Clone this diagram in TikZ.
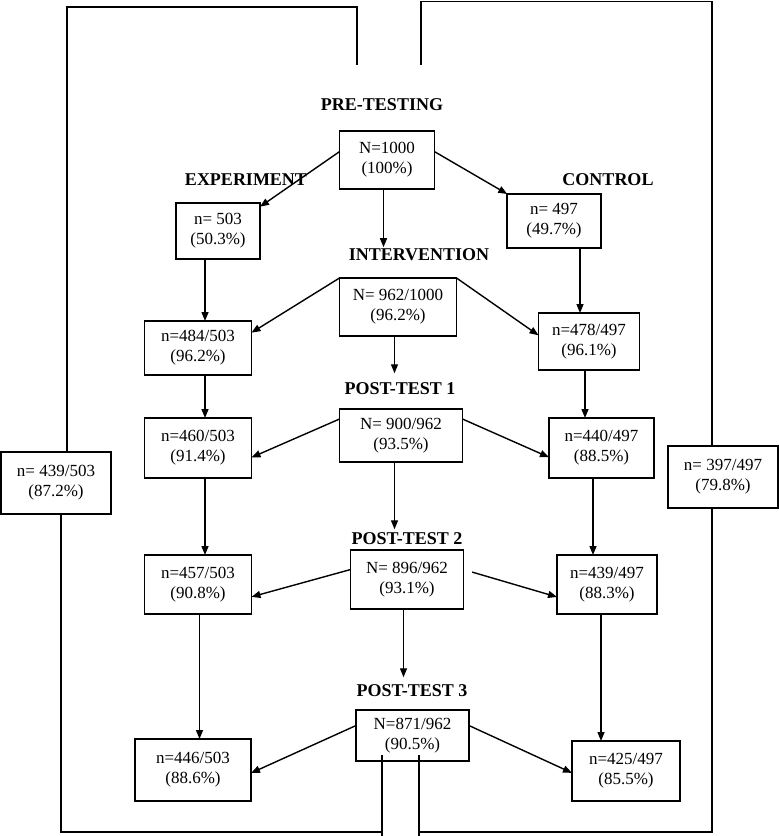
\documentclass[tikz,border=0pt]{standalone}
\usepackage{fontspec}
\setmainfont{Liberation Serif}
\usetikzlibrary{arrows.meta}

\tikzset{
  box/.style={draw, align=center, inner sep=0pt, outer sep=0pt, font=\fontsize{17}{20}\selectfont},
  phase/.style={font=\bfseries\fontsize{18}{20}\selectfont, inner sep=1pt}
}

\begin{document}
\begin{tikzpicture}[x=1pt,y=-1pt,line width=1.4pt,>={Triangle[length=9pt,width=7pt]}]
  \useasboundingbox (0,0) rectangle (779,836);
  % fases
  \node[phase] (pre) at (382,105) {PRE-TESTING};
  \node[phase] (expe) at (246,180) {EXPERIMENT};
  \node[phase] (ctrl) at (608,180) {CONTROL};
  \node[phase] (inter) at (419,255) {INTERVENTION};
  \node[phase] (post1) at (400,389) {POST-TEST 1};
  \node[phase] (post2) at (407,539) {POST-TEST 2};
  \node[phase] (post3) at (412,691) {POST-TEST 3};
  % muestra total
  \node[box,minimum width=95pt,minimum height=58pt] (n1000) at (387,160) {N=1000\\(100\%)};
  \node[box,minimum width=117pt,minimum height=58pt] (n962) at (398,307) {N= 962/1000\\(96.2\%)};
  \node[box,minimum width=123pt,minimum height=53pt] (n900) at (401,435.5) {N= 900/962\\(93.5\%)};
  \node[box,minimum width=113pt,minimum height=59pt] (n896) at (407,579.5) {N= 896/962\\(93.1\%)};
  \node[box,minimum width=113pt,minimum height=51pt] (n871) at (412.5,735.5) {N=871/962\\(90.5\%)};
  % grupo experimental
  \node[box,minimum width=84pt,minimum height=56pt] (n503) at (218,231) {n= 503\\(50.3\%)};
  \node[box,minimum width=107pt,minimum height=54pt] (n484) at (198,348) {n=484/503\\(96.2\%)};
  \node[box,minimum width=107pt,minimum height=60pt] (n460) at (198,448) {n=460/503\\(91.4\%)};
  \node[box,minimum width=107pt,minimum height=59pt] (n457) at (198,584.5) {n=457/503\\(90.8\%)};
  \node[box,minimum width=116pt,minimum height=62pt] (n446) at (193,770) {n=446/503\\(88.6\%)};
  \node[box,minimum width=110pt,minimum height=62pt] (n439e) at (56,483) {n= 439/503\\(87.2\%)};
  % grupo control
  \node[box,minimum width=94pt,minimum height=54pt] (n497) at (554,221) {n= 497\\(49.7\%)};
  \node[box,minimum width=101pt,minimum height=57pt] (n478) at (589,341.5) {n=478/497\\(96.1\%)};
  \node[box,minimum width=105pt,minimum height=60pt] (n440) at (601.5,448) {n=440/497\\(88.5\%)};
  \node[box,minimum width=100pt,minimum height=59pt] (n439c) at (607,584.5) {n=439/497\\(88.3\%)};
  \node[box,minimum width=108pt,minimum height=60pt] (n425) at (626,771) {n=425/497\\(85.5\%)};
  \node[box,minimum width=110pt,minimum height=62pt] (n397) at (723,477) {n= 397/497\\(79.8\%)};
  % flechas del centro
  \draw[->] (n1000.170) -- (n503.30);
  \draw[->] (n1000.10) -- (n497.150);
  \draw[->] ([xshift=-3.5pt]n1000.south) -- ([xshift=-3.5pt]n1000.south |- inter.north);
  \draw[->] (n962.north west) -- (n484.16);
  \draw[->] (n962.north east) -- (n478.173);
  \draw[->,shorten >=8pt] ([xshift=-3.5pt]n962.south) -- ([xshift=-3.5pt]n962.south |- post1.north);
  \draw[->] (n900.165) -- (n460.-10);
  \draw[->] (n900.15) -- (n440.190);
  \draw[->,shorten >=2pt] ([xshift=-6.5pt]n900.south) -- ([xshift=-6.5pt]n900.south |- post2.north);
  \draw[->] (n896.170) -- (n457.-13);
  \draw[->,shorten <=9pt] (n896.10) -- (n439c.194);
  \draw[->,shorten >=6pt] ([xshift=-3.5pt]n896.south) -- ([xshift=-3.5pt]n896.south |- post3.north);
  \draw[->] (n871.170) -- (n446.-3);
  \draw[->] (n871.10) -- (n425.182);
  % flechas de cada grupo
  \draw[->] ([xshift=-13pt]n503.south) -- ([xshift=-13pt]n503.south |- n484.north);
  \draw[->] ([xshift=7pt]n484.south) -- ([xshift=7pt]n484.south |- n460.north);
  \draw[->] ([xshift=7pt]n460.south) -- ([xshift=7pt]n460.south |- n457.north);
  \draw[->] ([xshift=1.5pt]n457.south) -- ([xshift=1.5pt]n457.south |- n446.north);
  \draw[->] ([xshift=26pt]n497.south) -- ([xshift=26pt]n497.south |- n478.north);
  \draw[->] ([xshift=-4pt]n478.south) -- ([xshift=-4pt]n478.south |- n440.north);
  \draw[->] ([xshift=-8.5pt]n440.south) -- ([xshift=-8.5pt]n440.south |- n439c.north);
  \draw[->] ([xshift=-6pt]n439c.south) -- ([xshift=-6pt]n439c.south |- n425.north);
  % lineas de fuera
  \coordinate (topL) at (357,65);
  \coordinate (topR) at (421,65);
  \coordinate (botL) at (382,755);
  \coordinate (botR) at (419,755);
  \draw ([xshift=11pt]n439e.north) -- ++(0,-445) -| (topL);
  \draw ([xshift=5pt]n439e.south) -- ++(0,318) -| (botL) -- ++(0,81);
  \draw (topR) -- ++(0,-63.5) -| ([xshift=-11pt]n397.north);
  \draw ([xshift=-11pt]n397.south) -- ++(0,324) -| (botR) -- ++(0,81);
\end{tikzpicture}
\end{document}
